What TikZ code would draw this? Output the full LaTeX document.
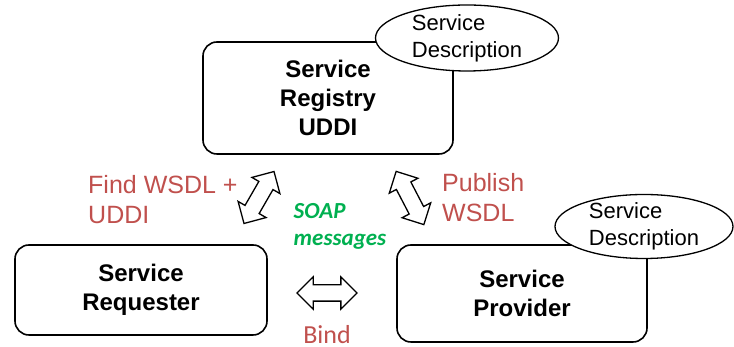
\documentclass[tikz,border=0pt]{standalone}
\usepackage{fontspec}
\setmainfont{Liberation Sans}
\newfontfamily\calibfont{Carlito}
\usetikzlibrary{shapes.geometric,shapes.arrows}
\definecolor{rojoetq}{HTML}{C0504D}
\definecolor{verdeetq}{HTML}{00B050}

\begin{document}
\begin{tikzpicture}[x=1pt,y=1pt,
  caja/.style={draw,line width=1.6pt,rounded corners=14pt,align=center,inner sep=0pt,
    font=\bfseries\fontsize{24}{29}\selectfont},
  descr/.style={ellipse,draw,line width=1.3pt,fill=white,align=left,inner xsep=0pt,inner ysep=-3pt,
    minimum width=183pt,minimum height=66pt,font=\fontsize{22}{27}\selectfont},
  etiq/.style={text=rojoetq,align=left,inner sep=0pt,font=\fontsize{25}{30}\selectfont},
  flecha/.style={double arrow,draw,line width=1.3pt,fill=white,inner xsep=0pt,inner ysep=7.5pt,
    minimum height=60pt,minimum width=31pt,double arrow head extend=8pt}]
  \useasboundingbox (0,0) rectangle (734,347);

  % Cajas
  \node[caja,minimum width=250pt,minimum height=112pt] (registro) at (328,249) {Service\\Registry\\UDDI};
  \node[caja,minimum width=252pt,minimum height=90pt] (solicitante) at (141,57) {Service\\Requester};
  \node[caja,minimum width=250pt,minimum height=97pt] (proveedor) at (522,53.5) {Service\\Provider};

  % Descripciones
  \node[descr] (descreg) at (467,309) {Service\\Description};
  \node[descr,minimum width=178pt,minimum height=64pt] (descprov) at (644,120.5) {Service\\Description};

  % Flechas dobles
  \node[flecha,rotate=60] (buscarfl) at (259,149.5) {};
  \node[flecha,rotate=117.5] (publicarfl) at (410,149) {};
  \node[flecha] (enlacefl) at (327,54) {};

  % Etiquetas
  \node[etiq,anchor=west] (buscar) at (88,147) {Find WSDL +\\UDDI};
  \node[etiq,anchor=west] (publicar) at (442,149) {Publish\\WSDL};
  \node[text=verdeetq,align=left,inner sep=0pt,font=\calibfont\bfseries\itshape\fontsize{23}{27}\selectfont] (soap) at (340,120.5) {SOAP\\messages};
  \node[text=rojoetq,inner sep=0pt,anchor=base,font=\calibfont\fontsize{26}{30}\selectfont] (enlace) at (327,3.5) {Bind};
\end{tikzpicture}
\end{document}
